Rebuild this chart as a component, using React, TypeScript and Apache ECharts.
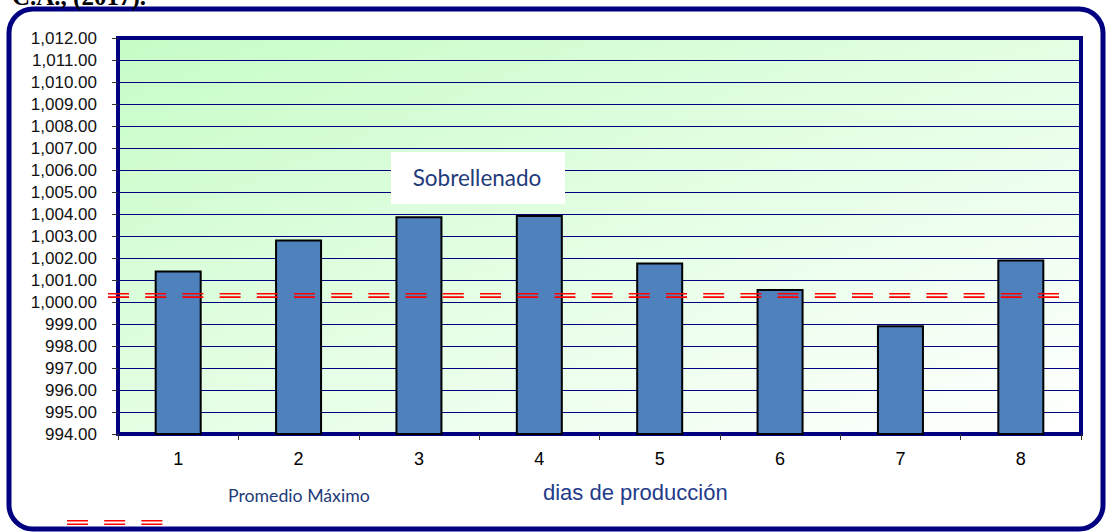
import { useEffect, useRef } from "react";
import * as echarts from "echarts";

const categories = ["1", "2", "3", "4", "5", "6", "7", "8"];
const values = [1001.43, 1002.84, 1003.9, 1003.95, 1001.8, 1000.59, 998.94, 1001.93];
const limitValue = 1000.3;
const yMin = 994;
const yMax = 1012;
const yStep = 1;
const xAxisTitle = "dias de producción";
const limitLabel = "Promedio Máximo";
const boxLabel = "Sobrellenado";
const captionText = "C.A., (2017).";

const fmt = (v: number) => {
  const s = v.toFixed(2);
  const [i, d] = s.split(".");
  return i.replace(/\B(?=(\d{3})+(?!\d))/g, ",") + "." + d;
};

export default function App() {
  const ref = useRef<HTMLDivElement>(null);
  useEffect(() => {
    if (!ref.current) return;
    const chart = echarts.init(ref.current, null, { renderer: "svg" });
    chart.setOption({
      animation: false,
      backgroundColor: "#ffffff",
      grid: {
        left: 118,
        right: 26,
        top: 38,
        bottom: 98,
        show: true,
        borderColor: "#000080",
        borderWidth: 4,
        backgroundColor: new echarts.graphic.LinearGradient(0, 0, 1, 1, [
          { offset: 0, color: "#C6FCC6" },
          { offset: 0.5, color: "#E4FEE4" },
          { offset: 1, color: "#FFFFFF" },
        ]),
      },
      xAxis: {
        type: "category",
        data: categories,
        axisLine: { show: true, lineStyle: { color: "#000080", width: 4 } },
        axisTick: { show: true, length: 6, alignWithLabel: false, lineStyle: { color: "#333", width: 1 } },
        axisLabel: { color: "#000", fontSize: 18, fontFamily: "Liberation Sans", margin: 16 },
      },
      yAxis: {
        type: "value",
        min: yMin,
        max: yMax,
        interval: yStep,
        axisLine: { show: true, lineStyle: { color: "#000080", width: 4 } },
        axisTick: { show: true, length: 6, lineStyle: { color: "#333", width: 1 } },
        axisLabel: {
          color: "#111",
          fontSize: 17,
          fontFamily: "Liberation Sans",
          margin: 21,
          formatter: (v: number) => fmt(v),
        },
        splitLine: { show: true, lineStyle: { color: "#000080", width: 1 } },
      },
      series: [
        {
          type: "bar",
          data: values,
          barWidth: 47,
          itemStyle: { color: "#4F81BD", borderColor: "#000", borderWidth: 2 },
        },
      ],
    });

    const yPx = chart.convertToPixel({ yAxisIndex: 0 }, limitValue) as number;
    const dash = [21, 16.2];
    const red = "#FF0000";
    const navyText = "#1F3B7A";
    chart.setOption({
      graphic: [
        {
          type: "rect",
          z: 50,
          shape: { x: 9, y: 9, width: 1094, height: 520, r: 24 },
          style: { fill: "rgba(0,0,0,0)", stroke: "#000080", lineWidth: 5 },
        },
        {
          type: "text",
          z: 50,
          x: 12,
          y: -4,
          style: {
            text: captionText,
            fontSize: 25,
            fontWeight: "bold",
            fontFamily: "Liberation Serif",
            fill: "#000",
            verticalAlign: "middle",
          },
        },
        {
          type: "rect",
          z: 50,
          shape: { x: 391, y: 152, width: 174, height: 52 },
          style: { fill: "#ffffff" },
        },
        {
          type: "text",
          z: 51,
          x: 477,
          y: 177,
          style: {
            text: boxLabel,
            fontSize: 22.5,
            fontFamily: "Lato",
            fill: navyText,
            align: "center",
            verticalAlign: "middle",
          },
        },
        {
          type: "line",
          z: 60,
          shape: { x1: 108, y1: yPx - 1.7, x2: 1059, y2: yPx - 1.7 },
          style: { stroke: red, lineWidth: 1.6, lineDash: dash },
        },
        {
          type: "line",
          z: 60,
          shape: { x1: 108, y1: yPx + 1.7, x2: 1059, y2: yPx + 1.7 },
          style: { stroke: red, lineWidth: 1.6, lineDash: dash },
        },
        {
          type: "line",
          z: 60,
          shape: { x1: 67, y1: 520.7, x2: 163, y2: 520.7 },
          style: { stroke: red, lineWidth: 1.6, lineDash: dash },
        },
        {
          type: "line",
          z: 60,
          shape: { x1: 67, y1: 524.3, x2: 163, y2: 524.3 },
          style: { stroke: red, lineWidth: 1.6, lineDash: dash },
        },
        {
          type: "text",
          z: 50,
          x: 228,
          y: 495,
          style: {
            text: limitLabel,
            fontSize: 17.7,
            fontFamily: "Lato",
            fill: navyText,
            verticalAlign: "middle",
          },
        },
        {
          type: "text",
          z: 50,
          x: 543,
          y: 492,
          style: {
            text: xAxisTitle,
            fontSize: 22,
            fontFamily: "Liberation Sans",
            fill: "#1F3B8A",
            verticalAlign: "middle",
          },
        },
      ],
    });
    return () => chart.dispose();
  }, []);
  return (
    <div
      ref={ref}
      style={{ position: "fixed", left: 0, top: 0, width: 1107, height: 532 }}
    />
  );
}
